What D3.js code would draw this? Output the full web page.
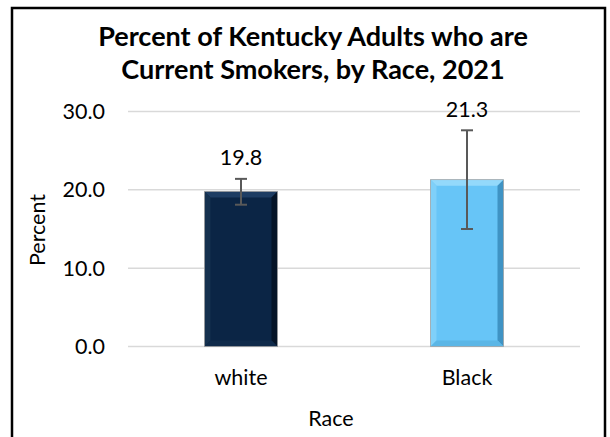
<!DOCTYPE html>
<html><head><meta charset="utf-8">
<script src="https://cdn.jsdelivr.net/npm/d3@7"></script>
<style>body{margin:0;background:#fff}svg{display:block}text{font-family:Lato,"Open Sans",sans-serif}</style>
</head><body>
<script>
const categories = ["white", "Black"];
const values = [19.8, 21.3];
const ciLow = [18.1, 15.0];
const ciHigh = [21.4, 27.6];
const yTicks = [0, 10, 20, 30];
const titleLines = ["Percent of Kentucky Adults who are", "Current Smokers, by Race, 2021"];
const barColors = [
  {main:"#0b2545", top:"#1e3d63", left:"#15314f", right:"#051427", bottom:"#0f2a4a"},
  {main:"#67c5f7", top:"#93d9fb", left:"#7fd0f9", right:"#3f93c4", bottom:"#5bb6e6"}
];

const W = 610, H = 437, FS = 21.5;
const svg = d3.select("body").append("svg").attr("width", W).attr("height", H);
svg.append("rect").attr("x", 12).attr("y", 8).attr("width", 593).attr("height", 433)
  .attr("fill", "#fff").attr("stroke", "#000").attr("stroke-width", 2.5);

const x = d3.scaleBand().domain(categories).range([128, 580]).paddingInner(0.677).paddingOuter(0.3385);
const y = d3.scaleLinear().domain([0, 30]).range([346.5, 111.5]);

// gridlines
svg.append("g").selectAll("line").data(yTicks).join("line")
  .attr("x1", 128).attr("x2", 580).attr("y1", d => y(d)).attr("y2", d => y(d))
  .attr("stroke", "#d9d9d9").attr("stroke-width", 1.5);

// y axis labels
const yAxis = d3.axisLeft(y).tickValues(yTicks).tickFormat(d3.format(".1f")).tickSize(0).tickPadding(0);
const gy = svg.append("g").attr("transform", "translate(105,0)").call(yAxis);
gy.select(".domain").remove();
gy.selectAll("text").attr("font-size", FS).attr("fill", "#000").attr("font-family", "Lato");

// x axis labels
const xAxis = d3.axisBottom(x).tickSize(0).tickPadding(0);
const gx = svg.append("g").attr("transform", "translate(0,378)").call(xAxis);
gx.select(".domain").remove();
gx.selectAll("text").attr("font-size", FS).attr("fill", "#000").attr("dy", "0.32em").attr("font-family", "Lato");

// bars with bevel
const bev = 6;
categories.forEach((c, i) => {
  const x0 = x(c), x1 = x0 + x.bandwidth(), y0 = y(values[i]), y1 = y(0);
  const col = barColors[i];
  const g = svg.append("g");
  g.append("rect").attr("x", x0).attr("y", y0).attr("width", x1 - x0).attr("height", y1 - y0).attr("fill", col.main);
  const poly = pts => g.append("polygon").attr("points", pts.map(p => p.join(",")).join(" "));
  poly([[x0,y0],[x1,y0],[x1-bev,y0+bev],[x0+bev,y0+bev]]).attr("fill", col.top);
  poly([[x0,y0],[x0+bev,y0+bev],[x0+bev,y1-bev],[x0,y1]]).attr("fill", col.left);
  poly([[x1,y0],[x1,y1],[x1-bev,y1-bev],[x1-bev,y0+bev]]).attr("fill", col.right);
  poly([[x0,y1],[x0+bev,y1-bev],[x1-bev,y1-bev],[x1,y1]]).attr("fill", col.bottom);
  g.append("rect").attr("x", x0).attr("y", y0).attr("width", x1 - x0).attr("height", y1 - y0)
    .attr("fill", "none").attr("stroke", "#a6a6a6").attr("stroke-width", 0.8);
});

// error bars
const cx = c => x(c) + x.bandwidth() / 2;
const eb = svg.append("g").attr("stroke", "#595959").attr("stroke-width", 2);
categories.forEach((c, i) => {
  eb.append("line").attr("x1", cx(c)).attr("x2", cx(c)).attr("y1", y(ciLow[i])).attr("y2", y(ciHigh[i]));
  [ciLow[i], ciHigh[i]].forEach(v => eb.append("line").attr("x1", cx(c) - 6).attr("x2", cx(c) + 6).attr("y1", y(v)).attr("y2", y(v)));
});

// data labels
svg.append("g").selectAll("text").data(categories).join("text")
  .attr("x", d => cx(d)).attr("y", (d, i) => y(ciHigh[i]) - 21)
  .attr("text-anchor", "middle").attr("dy", "0.35em").attr("font-size", FS)
  .text((d, i) => d3.format(".1f")(values[i]));

// axis titles
svg.append("text").attr("x", 331).attr("y", 418).attr("dy", "0.35em").attr("text-anchor", "middle")
  .attr("font-size", FS).text("Race");
svg.append("text").attr("transform", "translate(37,230) rotate(-90)").attr("dy", "0.35em")
  .attr("text-anchor", "middle").attr("font-size", FS).text("Percent");

// title
const tl = svg.append("g").selectAll("text").data(titleLines).join("text")
  .attr("x", 313).attr("y", (d, i) => 45.5 + i * 33.5).attr("text-anchor", "middle")
  .attr("font-weight", "bold").attr("font-size", 23).text(d => d);
const w0 = tl.nodes()[0].getComputedTextLength();
tl.attr("font-size", 23 * 430 / w0);
</script>
</body></html>
